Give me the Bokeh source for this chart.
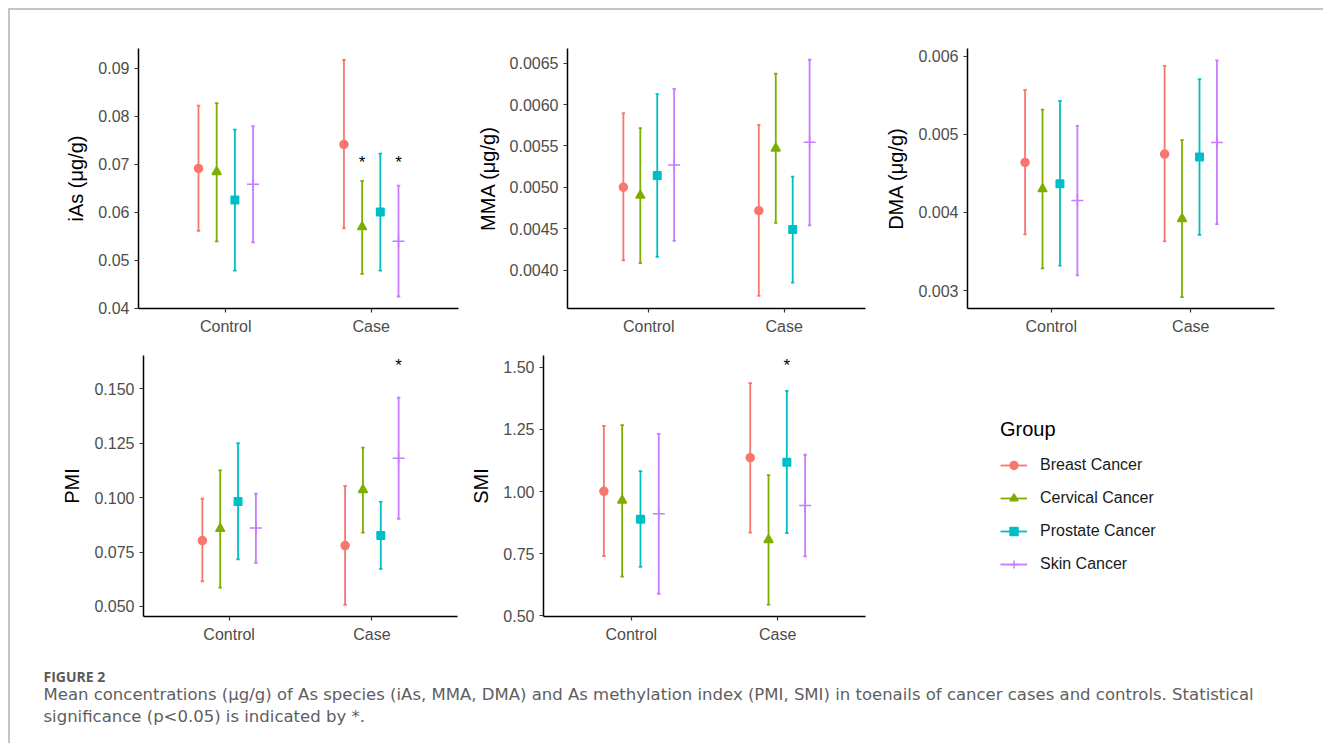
from bokeh.plotting import figure
from bokeh.layouts import column, row
from bokeh.models import (Range1d, FixedTicker, PrintfTickFormatter, Legend,
                          LegendItem, Label, ColumnDataSource)
from bokeh.core.properties import value
from bokeh.embed import file_html
from bokeh.resources import INLINE

# ---------------- data ----------------
categories = ["Control", "Case"]
groups = ["Breast Cancer", "Cervical Cancer", "Prostate Cancer", "Skin Cancer"]

# iAs (µg/g)
ias_control_mean = [0.0691, 0.0684, 0.0625, 0.0658]
ias_control_low = [0.0561, 0.0539, 0.0478, 0.0537]
ias_control_high = [0.0822, 0.0827, 0.0772, 0.0779]
ias_case_mean = [0.0741, 0.0569, 0.0600, 0.0539]
ias_case_low = [0.0566, 0.0471, 0.0478, 0.0424]
ias_case_high = [0.0917, 0.0665, 0.0722, 0.0655]
ias_sig_groups = ["Cervical Cancer", "Skin Cancer"]
ias_sig_y = [0.0708, 0.0708]

# MMA (µg/g)
mma_control_mean = [0.005002, 0.004901, 0.005142, 0.005270]
mma_control_low = [0.004117, 0.004084, 0.004161, 0.004353]
mma_control_high = [0.005895, 0.005715, 0.006127, 0.006188]
mma_case_mean = [0.004718, 0.005471, 0.004489, 0.005543]
mma_case_low = [0.003688, 0.004570, 0.003849, 0.004541]
mma_case_high = [0.005755, 0.006372, 0.005130, 0.006541]
mma_sig_groups = []
mma_sig_y = []

# DMA (µg/g)
dma_control_mean = [0.004640, 0.004300, 0.004368, 0.004151]
dma_control_low = [0.003718, 0.003284, 0.003319, 0.003195]
dma_control_high = [0.005567, 0.005315, 0.005426, 0.005108]
dma_case_mean = [0.004747, 0.003918, 0.004708, 0.004895]
dma_case_low = [0.003629, 0.002915, 0.003714, 0.003849]
dma_case_high = [0.005876, 0.004925, 0.005707, 0.005945]
dma_sig_groups = []
dma_sig_y = []

# PMI
pmi_control_mean = [0.0803, 0.0857, 0.0982, 0.0860]
pmi_control_low = [0.0616, 0.0587, 0.0717, 0.0701]
pmi_control_high = [0.0995, 0.1125, 0.1250, 0.1018]
pmi_case_mean = [0.0780, 0.1036, 0.0826, 0.1181]
pmi_case_low = [0.0508, 0.0839, 0.0673, 0.0903]
pmi_case_high = [0.1054, 0.1230, 0.0981, 0.1459]
pmi_sig_groups = ["Skin Cancer"]
pmi_sig_y = [0.1615]

# SMI
smi_control_mean = [1.001, 0.964, 0.889, 0.911]
smi_control_low = [0.740, 0.658, 0.697, 0.589]
smi_control_high = [1.264, 1.267, 1.082, 1.232]
smi_case_mean = [1.136, 0.806, 1.118, 0.944]
smi_case_low = [0.835, 0.545, 0.833, 0.739]
smi_case_high = [1.436, 1.066, 1.405, 1.148]
smi_sig_groups = ["Prostate Cancer"]
smi_sig_y = [1.516]

ias_ticks = [0.04, 0.05, 0.06, 0.07, 0.08, 0.09]
mma_ticks = [0.0040, 0.0045, 0.0050, 0.0055, 0.0060, 0.0065]
dma_ticks = [0.003, 0.004, 0.005, 0.006]
pmi_ticks = [0.050, 0.075, 0.100, 0.125, 0.150]
smi_ticks = [0.50, 0.75, 1.00, 1.25, 1.50]

caption_label = "FIGURE 2"
caption_line1 = ("Mean concentrations (\u03bcg/g) of As species (iAs, MMA, DMA) and As methylation "
                 "index (PMI, SMI) in toenails of cancer cases and controls. Statistical")
caption_line2 = "significance (p<0.05) is indicated by *."

# ---------------- styles ----------------
colors = ["#F8766D", "#7CAE00", "#00BFC4", "#C77CFF"]
markers = ["circle", "triangle", "square", "cross"]
marker_sizes = [8, 9, 7.5, 12]
FONT = "Liberation Sans"
DODGE = 0.5
CAP = 0.012


def style_axes(p, ylabel):
    for ax in (p.xaxis[0], p.yaxis[0]):
        ax.axis_line_color = "black"
        ax.axis_line_width = 1.5
        ax.major_tick_line_color = "#333333"
        ax.major_tick_line_width = 1.2
        ax.major_tick_out = 4
        ax.major_tick_in = 0
        ax.minor_tick_line_color = None
        ax.major_label_text_font = FONT
        ax.major_label_text_font_size = "16px"
        ax.major_label_text_color = "#4d4d4d"
        ax.major_label_standoff = 5
    p.yaxis.axis_label = ylabel
    p.yaxis.axis_label_text_font = FONT
    p.yaxis.axis_label_text_font_size = "20px"
    p.yaxis.axis_label_text_font_style = "normal"
    p.yaxis.axis_label_text_color = "black"
    p.yaxis.axis_label_standoff = 8


def make_panel(ylabel, ctrl, case, yr, ticks, fmt, sig_groups, sig_y,
               w, h, left, right, top, bottom):
    p = figure(width=w, height=h, min_border_left=left, min_border_right=right,
               min_border_top=top, min_border_bottom=bottom,
               x_range=Range1d(0.4, 2.6), y_range=Range1d(*yr),
               output_backend="svg", toolbar_location=None,
               background_fill_color="white", border_fill_color="white",
               outline_line_color=None)
    p.xgrid.visible = False
    p.ygrid.visible = False
    ng = len(groups)
    for j, g in enumerate(groups):
        off = (j - (ng - 1) / 2) * DODGE / ng
        xs = [i + 1 + off for i in range(len(categories))]
        src = ColumnDataSource(dict(
            x=xs,
            x0=[x - CAP for x in xs],
            x1=[x + CAP for x in xs],
            mean=[ctrl[0][j], case[0][j]],
            low=[ctrl[1][j], case[1][j]],
            high=[ctrl[2][j], case[2][j]],
        ))
        c = colors[j]
        p.segment("x", "low", "x", "high", source=src, line_color=c, line_width=1.8)
        p.segment("x0", "low", "x1", "low", source=src, line_color=c, line_width=1.8)
        p.segment("x0", "high", "x1", "high", source=src, line_color=c, line_width=1.8)
        p.scatter("x", "mean", source=src, marker=markers[j], size=marker_sizes[j],
                  fill_color=c, line_color=c, line_width=1.5)
    if sig_groups:
        sx = [2 + (groups.index(g) - (ng - 1) / 2) * DODGE / ng for g in sig_groups]
        p.text(x=sx, y=sig_y, text=["*"] * len(sx), text_font=value(FONT),
               text_font_size="17px", text_color="black", text_align="center",
               text_baseline="middle", y_offset=2)
    p.xaxis.ticker = FixedTicker(ticks=[1, 2])
    p.xaxis.major_label_overrides = {1: categories[0], 2: categories[1]}
    p.yaxis.ticker = FixedTicker(ticks=ticks)
    p.yaxis.formatter = PrintfTickFormatter(format=fmt)
    style_axes(p, ylabel)
    return p


p1 = make_panel("iAs (\u03bcg/g)",
                (ias_control_mean, ias_control_low, ias_control_high),
                (ias_case_mean, ias_case_low, ias_case_high),
                (0.0399, 0.0941), ias_ticks, "%.2f", ias_sig_groups, ias_sig_y,
                452, 335, 128, 4, 38, 37)
p2 = make_panel("MMA (\u03bcg/g)",
                (mma_control_mean, mma_control_low, mma_control_high),
                (mma_case_mean, mma_case_low, mma_case_high),
                (0.003536, 0.006677), mma_ticks, "%.4f", mma_sig_groups, mma_sig_y,
                406, 335, 105, 3, 38, 36)
p3 = make_panel("DMA (\u03bcg/g)",
                (dma_control_mean, dma_control_low, dma_control_high),
                (dma_case_mean, dma_case_low, dma_case_high),
                (0.00277, 0.006098), dma_ticks, "%.3f", dma_sig_groups, dma_sig_y,
                455, 335, 99, 49, 37, 37)
p4 = make_panel("PMI",
                (pmi_control_mean, pmi_control_low, pmi_control_high),
                (pmi_case_mean, pmi_case_low, pmi_case_high),
                (0.0454, 0.1653), pmi_ticks, "%.3f", pmi_sig_groups, pmi_sig_y,
                452, 305, 133, 5, 10, 34)
p5 = make_panel("SMI",
                (smi_control_mean, smi_control_low, smi_control_high),
                (smi_case_mean, smi_case_low, smi_case_high),
                (0.4976, 1.547), smi_ticks, "%.2f", smi_sig_groups, smi_sig_y,
                406, 305, 81, 3, 10, 34)

# legend panel: key renderers carry the iAs values but sit outside its view
pl = figure(width=455, height=305, min_border=0, x_axis_location=None,
            y_axis_location=None, x_range=Range1d(-2, -1), y_range=Range1d(-2, -1),
            output_backend="svg", toolbar_location=None, outline_line_color=None,
            background_fill_color="white", border_fill_color="white")
pl.grid.visible = False
items = []
for j, g in enumerate(groups):
    kx = [1, 2]
    ky = [ias_control_mean[j], ias_case_mean[j]]
    lr = pl.line(x=kx, y=ky, line_color=colors[j], line_width=1.8)
    sr = pl.scatter(x=kx, y=ky, marker=markers[j], fill_color=colors[j],
                    line_color=colors[j], line_width=1.5)
    items.append(LegendItem(label=g, renderers=[lr, sr]))
leg = Legend(items=items, location=(132, 42), title="Group",
             title_text_font=FONT, title_text_font_size="20px",
             title_text_font_style="normal", title_text_color="black",
             title_standoff=14,
             label_text_font=FONT, label_text_font_size="16px",
             label_text_color="#1a1a1a",
             glyph_width=27, glyph_height=20, label_height=20,
             label_standoff=13, spacing=13, padding=0, margin=0,
             border_line_color=None, background_fill_alpha=0)
pl.add_layout(leg)

# caption panel
pc = figure(width=1313, height=93, min_border=0, x_axis_location=None,
            y_axis_location=None, x_range=Range1d(0, 1), y_range=Range1d(0, 1),
            output_backend="svg", toolbar_location=None, outline_line_color=None,
            background_fill_color="white", border_fill_color="white")
pc.grid.visible = False
pc.add_layout(Label(x=33, y=67, x_units="screen", y_units="screen", text=caption_label,
                    text_font="Open Sans", text_font_size="14px",
                    text_font_style="bold", text_color="#5a5a5a",
                    text_baseline="alphabetic"))
pc.add_layout(Label(x=33, y=49, x_units="screen", y_units="screen", text=caption_line1,
                    text_font="DejaVu Sans", text_font_size="16.5px",
                    text_color="#5e5e5e", text_baseline="alphabetic"))
pc.add_layout(Label(x=33, y=27, x_units="screen", y_units="screen", text=caption_line2,
                    text_font="DejaVu Sans", text_font_size="16.5px",
                    text_color="#5e5e5e", text_baseline="alphabetic"))

layout = column(row(p1, p2, p3), row(p4, p5, pl), pc,
                styles={"margin-left": "8px", "margin-top": "8px",
                        "border-top": "2px solid #c4c4c4",
                        "border-left": "2px solid #c4c4c4"})

open("out.html", "w").write(file_html(layout, INLINE))
